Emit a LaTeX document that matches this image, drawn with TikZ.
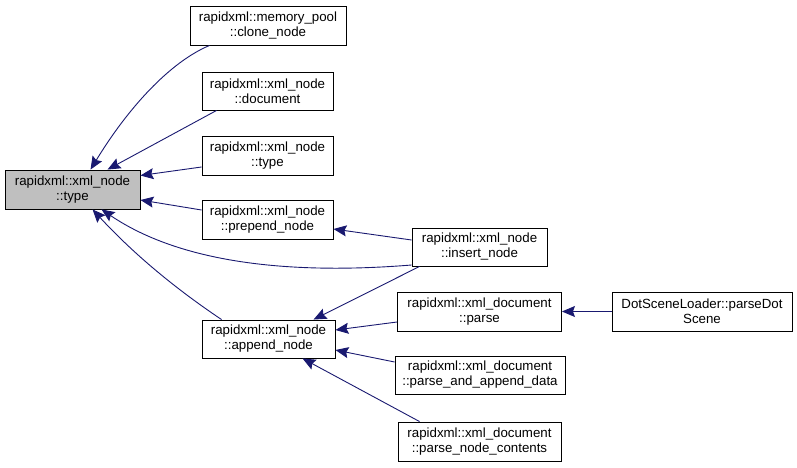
\documentclass[tikz,border=0pt]{standalone}
\usepackage{fontspec}
\setmainfont{Liberation Sans}
\usetikzlibrary{arrows.meta}
\definecolor{edgec}{RGB}{25,25,112}
\definecolor{maingray}{RGB}{191,191,191}
\begin{document}
\begin{tikzpicture}[x=1pt,y=-1pt,
  box/.style={draw=black,line width=0.9pt,fill=white,align=center,inner sep=0pt,
    font=\fontsize{13.3}{15}\selectfont},
  edge/.style={draw=edgec,line width=0.9pt,-{Stealth[length=13pt,width=11pt,inset=2pt]}}]
\useasboundingbox (0,0) rectangle (797,468);
\node[box,fill=maingray,minimum width=135,minimum height=39] (main) at (72.5,189.5) {rapidxml::xml\_node\\::type};
\node[box,minimum width=156,minimum height=39] (clone) at (268,25.5) {rapidxml::memory\_pool\\::clone\_node};
\node[box,minimum width=131,minimum height=38] (doc) at (267.5,91) {rapidxml::xml\_node\\::document};
\node[box,minimum width=131,minimum height=39] (type) at (267.5,155.5) {rapidxml::xml\_node\\::type};
\node[box,minimum width=131,minimum height=39] (prep) at (267.5,219.5) {rapidxml::xml\_node\\::prepend\_node};
\node[box,minimum width=135,minimum height=38] (ins) at (479.5,247) {rapidxml::xml\_node\\::insert\_node};
\node[box,minimum width=133,minimum height=38] (app) at (268.5,339) {rapidxml::xml\_node\\::append\_node};
\node[box,minimum width=164,minimum height=39] (parse) at (479.5,311.5) {rapidxml::xml\_document\\::parse};
\node[box,minimum width=170,minimum height=38] (pad) at (480,375) {rapidxml::xml\_document\\::parse\_and\_append\_data};
\node[box,minimum width=163,minimum height=39] (pnc) at (479.5,441.5) {rapidxml::xml\_document\\::parse\_node\_contents};
\node[box,minimum width=180,minimum height=39] (dot) at (702,311.5) {DotSceneLoader::parseDot\\Scene};
% edges
\draw[edge] ([xshift=20pt]clone.south west) .. controls (170,62) and (128,108) .. ([xshift=86pt]main.north west);
\draw[edge] ([xshift=15pt]doc.south west) -- ([xshift=103pt]main.north west);
\draw[edge] ([yshift=-11.5pt]type.west) -- ([yshift=14pt]main.east);
\draw[edge] ([yshift=9.5pt]prep.west) -- ([yshift=-10.5pt]main.east);
\draw[edge] ([yshift=-18pt]ins.west) .. controls (300,274) and (185,266) .. ([xshift=97pt]main.south west);
\draw[edge] ([xshift=20pt]app.north west) .. controls (170,285) and (130,250) .. ([xshift=88pt]main.south west);
\draw[edge] ([yshift=7pt]ins.west) -- ([yshift=-9.5pt]prep.east);
\draw[edge] ([xshift=8pt]ins.south west) -- ([xshift=112pt]app.north west);
\draw[edge] ([yshift=-10.5pt]parse.west) -- ([yshift=9pt]app.east);
\draw[edge] ([yshift=13pt]pad.west) -- ([yshift=-11pt]app.east);
\draw[edge] ([xshift=22pt]pnc.north west) -- ([xshift=101pt]app.south west);
\draw[edge] (dot.west) -- (parse.east);
\end{tikzpicture}
\end{document}
